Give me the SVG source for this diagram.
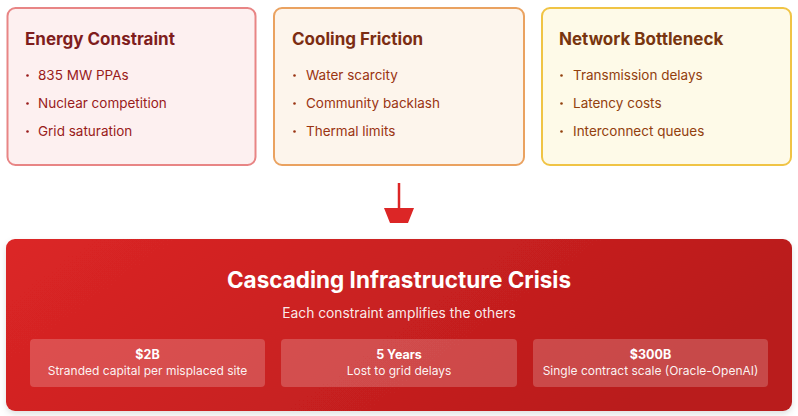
<svg xmlns="http://www.w3.org/2000/svg" width="798" height="416" viewBox="0 0 798 416">
<defs>
<linearGradient id="crisis" x1="0" y1="0" x2="1" y2="0.3">
<stop offset="0" stop-color="#dc2626"/>
<stop offset="1" stop-color="#b91c1c"/>
</linearGradient>
<filter id="sh" x="-5%" y="-10%" width="110%" height="125%">
<feDropShadow dx="0" dy="3" stdDeviation="3" flood-color="#000" flood-opacity="0.12"/>
</filter>
</defs>
<style>
text{font-family:Inter,"Noto Sans","Liberation Sans",sans-serif}
.t{font-size:17px;font-weight:700}
.b{font-size:13.5px}
.stat{fill:#ffffff;fill-opacity:0.2}
.sv{font-size:12.5px;font-weight:700;fill:#fff;text-anchor:middle}
.sl{font-size:12px;fill:#fff;fill-opacity:0.95;text-anchor:middle}
</style>
<rect width="798" height="416" fill="#ffffff"/>
<g id="energy">
<rect x="7.5" y="8" width="248" height="157" rx="8" fill="#fdf0f0" stroke="#e88585" stroke-width="2"/>
<text class="t" x="25" y="45" fill="#7f1d1d">Energy Constraint</text>
<g class="b" fill="#991b1b">
<circle cx="27.5" cy="75.5" r="1.3"/><text x="38" y="80">835 MW PPAs</text>
<circle cx="27.5" cy="103.5" r="1.3"/><text x="38" y="108">Nuclear competition</text>
<circle cx="27.5" cy="131.5" r="1.3"/><text x="38" y="136">Grid saturation</text>
</g>
</g>
<g id="cooling">
<rect x="274" y="8" width="250" height="157" rx="8" fill="#fdf5ec" stroke="#eaa260" stroke-width="2"/>
<text class="t" x="292" y="45" fill="#7c2d12">Cooling Friction</text>
<g class="b" fill="#9a3412">
<circle cx="294.5" cy="75.5" r="1.3"/><text x="306" y="80">Water scarcity</text>
<circle cx="294.5" cy="103.5" r="1.3"/><text x="306" y="108">Community backlash</text>
<circle cx="294.5" cy="131.5" r="1.3"/><text x="306" y="136">Thermal limits</text>
</g>
</g>
<g id="network">
<rect x="542" y="8" width="249" height="157" rx="8" fill="#fefae8" stroke="#f0c445" stroke-width="2"/>
<text class="t" x="559" y="45" fill="#78350f">Network Bottleneck</text>
<g class="b" fill="#92400e">
<circle cx="561.5" cy="75.5" r="1.3"/><text x="573" y="80">Transmission delays</text>
<circle cx="561.5" cy="103.5" r="1.3"/><text x="573" y="108">Latency costs</text>
<circle cx="561.5" cy="131.5" r="1.3"/><text x="573" y="136">Interconnect queues</text>
</g>
</g>
<g id="connectors">
<line x1="399" y1="183" x2="399" y2="209" stroke="#dc2626" stroke-width="2.5"/>
<polygon points="384,208 414,208 408,223 390,223" fill="#dc2626"/>
</g>
<g id="crisis-node">
<rect x="6" y="239" width="786" height="172" rx="9" fill="url(#crisis)" filter="url(#sh)"/>
<text x="399" y="288" font-size="22.5" font-weight="700" fill="#fff" text-anchor="middle">Cascading Infrastructure Crisis</text>
<text x="399" y="318" font-size="13.8" fill="#fff" fill-opacity="0.92" text-anchor="middle">Each constraint amplifies the others</text>
<g id="stat1">
<rect class="stat" x="30" y="339" width="235" height="48" rx="4"/>
<text class="sv" x="147.5" y="359">$2B</text>
<text class="sl" x="147.5" y="375">Stranded capital per misplaced site</text>
</g>
<g id="stat2">
<rect class="stat" x="281" y="339" width="236" height="48" rx="4"/>
<text class="sv" x="399" y="359">5 Years</text>
<text class="sl" x="399" y="375">Lost to grid delays</text>
</g>
<g id="stat3">
<rect class="stat" x="533" y="339" width="235" height="48" rx="4"/>
<text class="sv" x="650.5" y="359">$300B</text>
<text class="sl" x="650.5" y="375">Single contract scale (Oracle-OpenAI)</text>
</g>
</g>
</svg>
